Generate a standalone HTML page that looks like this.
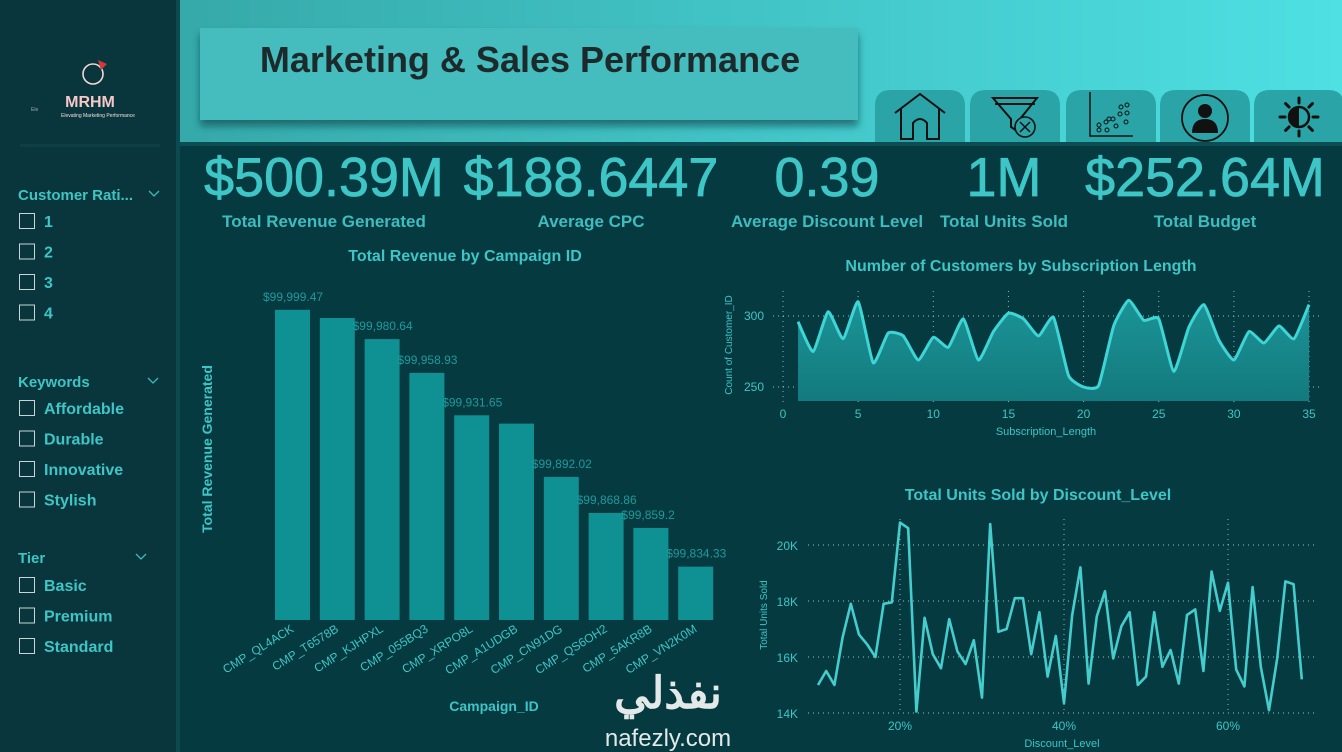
<!DOCTYPE html>
<html><head><meta charset="utf-8">
<style>
html,body{margin:0;padding:0;width:1342px;height:752px;overflow:hidden;background:#043a40;font-family:"Liberation Sans","Noto Sans CJK SC",sans-serif}
svg text{font-family:"Liberation Sans","Noto Sans CJK SC",sans-serif}
</style></head><body>
<svg id="root" width="1342" height="752" viewBox="0 0 1342 752" xmlns="http://www.w3.org/2000/svg">
<defs>
<linearGradient id="hdr" x1="0" x2="1" y1="0" y2="0"><stop offset="0" stop-color="#36a9aa"/><stop offset="1" stop-color="#4ee0e3"/></linearGradient>
<linearGradient id="area" x1="0" x2="0" y1="0" y2="1"><stop offset="0" stop-color="#1b9497"/><stop offset="1" stop-color="#137a7e"/></linearGradient>
<filter id="sh" x="-5%" y="-20%" width="110%" height="150%"><feDropShadow dx="0" dy="6" stdDeviation="4" flood-color="#0d4d52" flood-opacity="0.7"/></filter>
</defs>
<rect x="0" y="0" width="1342" height="752" fill="#043a40"/>
<rect x="0" y="0" width="178" height="752" fill="#08363c"/>
<rect x="176" y="0" width="4" height="752" fill="#0c4a50"/>
<g>
<circle cx="93" cy="74" r="10" fill="none" stroke="#f4d6d6" stroke-width="1.6"/>
<path d="M98 60 L107 64 L101 70 Z" fill="#d23a3a"/>
<text x="90" y="107" font-size="16" font-weight="bold" fill="#f6c8c8" text-anchor="middle">MRHM</text>
<text x="98" y="117" font-size="5" fill="#f0e0e0" text-anchor="middle">Elevating Marketing Performance</text>
<text x="31" y="111" font-size="5" fill="#9ab">Ele</text>
</g>
<rect x="20" y="144" width="140" height="3" fill="#0e3f44"/>
<g font-size="15" font-weight="bold" fill="#3fc4c4">
<text x="18" y="200">Customer Rati...</text>
<text x="18" y="387">Keywords</text>
<text x="18" y="563">Tier</text>
</g>
<g stroke="#3fb9bb" stroke-width="1.3" fill="none">
<path d="M149 191 l5 5 l5 -5"/>
<path d="M148 378 l5 5 l5 -5"/>
<path d="M136 554 l5 5 l5 -5"/>
</g>
<g id="filters"></g>
<rect x="180" y="0" width="1162" height="142" fill="url(#hdr)"/>
<rect x="200" y="28" width="658" height="92" fill="#45bcbd" filter="url(#sh)"/>
<text x="530" y="72" font-size="36" font-weight="bold" fill="#1d2a2c" text-anchor="middle">Marketing &amp; Sales Performance</text>
<g id="tabs"></g>
<rect x="180" y="142" width="1162" height="4" fill="#0a4e54"/>
<g id="kpis"></g>
<g id="bar"></g>
<g id="line1"></g>
<g id="line2"></g>
<g fill="#e3e9e9">
<text x="668" y="708" font-size="44" font-weight="bold" text-anchor="middle" font-family="'DejaVu Sans',sans-serif">نفذلي</text>
<text x="668" y="746" font-size="24" text-anchor="middle">nafezly.com</text>
</g>
</svg>
<script>
const NS='http://www.w3.org/2000/svg';
function el(tag,attrs,parent,txt){const e=document.createElementNS(NS,tag);for(const k in attrs)e.setAttribute(k,attrs[k]);if(txt!==undefined)e.textContent=txt;parent.appendChild(e);return e;}
const TEAL='#3ec5c6';

const ratingItems=['1','2','3','4'];
const keywordItems=['Affordable','Durable','Innovative','Stylish'];
const tierItems=['Basic','Premium','Standard'];
const fg=document.getElementById('filters');
function filterList(items,y0,step,name){
  items.forEach((t,i)=>{
    const y=y0+i*step;
    const g=el('g',{},fg);
    
    
    el('rect',{x:19.5,y:y-7.5,width:15,height:15,fill:'none',stroke:'#c9d6d8','stroke-width':1},g);
    el('text',{x:44,y:y+6,'font-size':16,'font-weight':'bold',fill:TEAL},g,t);
  });
}
filterList(ratingItems,221,30.5,'customer-rating');
filterList(keywordItems,408,30.5,'keyword');
filterList(tierItems,585,30.5,'tier');

const tg=document.getElementById('tabs');
const tabNames=['home-tab','clear-filters-tab','scatter-tab','profile-tab','theme-tab'];
const tabX=[875,970,1066,1160,1254];
tabX.forEach((x,i)=>{
  const g=el('g',{},tg);
  
  
  el('path',{d:`M${x} 142 V106 Q${x} 90 ${x+16} 90 H${x+74} Q${x+90} 90 ${x+90} 106 V142 Z`,fill:'#2aa4a6'},g);
  const cx=x+45,cy=117;
  const s={fill:'none',stroke:'#111','stroke-width':2};
  if(i===0){el('path',Object.assign({d:`M${cx-25} ${cy-4} L${cx} ${cy-23} L${cx+25} ${cy-4} M${cx-19} ${cy-8} V${cy+22} H${cx-7} V${cy+6} Q${cx} ${cy-2} ${cx+7} ${cy+6} V${cy+22} H${cx+19} V${cy-8}`},s),g);}
  if(i===1){el('path',Object.assign({d:`M${cx-22} ${cy-19} H${cx+22} L${cx+5} ${cy+2} V${cy+16} L${cx-4} ${cy+10} V${cy+2} Z M${cx-20} ${cy-13} H${cx+20}`},s),g);el('circle',{cx:cx+10,cy:cy+10,r:10,fill:'#2aa4a6',stroke:'#111','stroke-width':1.6},g);el('path',{d:`M${cx+5} ${cy+5} l10 10 M${cx+15} ${cy+5} l-10 10`,stroke:'#111','stroke-width':1.5},g);}
  if(i===2){el('path',{d:`M${cx-21} ${cy-25} V${cy+19} H${cx+22}`,stroke:'#111','stroke-width':1.5,fill:'none'},g);[[-12,8],[-5,5],[2,2],[9,-3],[16,-12],[-12,13],[-4,13],[5,9],[15,5],[16,-4],[10,-10],[-2,2]].forEach(p=>el('circle',{cx:cx+p[0],cy:cy+p[1],r:2,fill:'none',stroke:'#111','stroke-width':1},g));}
  if(i===3){el('circle',{cx:cx,cy:cy+1,r:23,fill:'none',stroke:'#111','stroke-width':1.8},g);el('circle',{cx:cx,cy:cy-6,r:7,fill:'#111'},g);el('path',{d:`M${cx-13} ${cy+16} Q${cx-13} ${cy+2} ${cx} ${cy+2} Q${cx+13} ${cy+2} ${cx+13} ${cy+16} Z`,fill:'#111'},g);}
  if(i===4){el('circle',{cx:cx,cy:cy,r:10,fill:'none',stroke:'#111','stroke-width':2.5},g);el('path',{d:`M${cx} ${cy-10} A10 10 0 0 0 ${cx} ${cy+10} Z`,fill:'#111'},g);for(let a=0;a<8;a++){const r=a*Math.PI/4;el('line',{x1:cx+Math.cos(r)*14,y1:cy+Math.sin(r)*14,x2:cx+Math.cos(r)*19,y2:cy+Math.sin(r)*19,stroke:'#111','stroke-width':3,'stroke-linecap':'round'},g);}}
});

const kpiValues=['$500.39M','$188.6447','0.39','1M','$252.64M'];
const kpiLabels=['Total Revenue Generated','Average CPC','Average Discount Level','Total Units Sold','Total Budget'];
const kpiNames=['total-revenue','average-cpc','average-discount','total-units','total-budget'];
const kpiCx=[324,591,827,1004,1205];
const kg=document.getElementById('kpis');
kpiValues.forEach((v,i)=>{
  const g=el('g',{},kg);
  
  
  el('text',{x:kpiCx[i],y:196,'font-size':55,fill:TEAL,'text-anchor':'middle',stroke:TEAL,'stroke-width':0.8,transform:`translate(${kpiCx[i]} 0) scale(0.98 1) translate(${-kpiCx[i]} 0)`},g,v);
  el('text',{x:kpiCx[i],y:227,'font-size':17,'font-weight':'bold',fill:'#3fbcbe','text-anchor':'middle'},g,kpiLabels[i]);
});

const barCats=['CMP_QL4ACK','CMP_T6578B','CMP_KJHPXL','CMP_055BQ3','CMP_XRPO8L','CMP_A1UDGB','CMP_CN91DG','CMP_QS6OH2','CMP_5AKR8B','CMP_VN2K0M'];
const barVals=[99999.47,99994.2,99980.64,99958.93,99931.65,99926.3,99892.02,99868.86,99859.2,99834.33];
const barLabelShown=[true,false,true,true,true,false,true,true,true,true];
const bg=document.getElementById('bar');
const bMin=99800,bMax=100000,bBase=620,bTop=309;
const by=v=>bBase-(v-bMin)/(bMax-bMin)*(bBase-bTop);
const bx=i=>275+i*44.8;
const bw=35;
const bt=el('text',{x:465,y:261,'font-size':16,'font-weight':'bold',fill:TEAL,'text-anchor':'middle'},bg,'Total Revenue by Campaign ID');


const yt=el('text',{x:212,y:449,'font-size':14,'font-weight':'bold',fill:TEAL,'text-anchor':'middle',transform:'rotate(-90 212 449)'},bg,'Total Revenue Generated');


const xt=el('text',{x:494,y:711,'font-size':14,'font-weight':'bold',fill:TEAL,'text-anchor':'middle'},bg,'Campaign_ID');


barVals.forEach((v,i)=>{
  const r=el('rect',{x:bx(i),y:by(v),width:bw,height:bBase-by(v),fill:'#0f9093'},bg);
  
  
  if(barLabelShown[i]){
    const t=el('text',{x:bx(i)-12,y:by(v)-9,'font-size':12,fill:'#1f9a9c'},bg,'$'+v.toLocaleString('en-US',{maximumFractionDigits:2}));
    
    
  }
  const cx=bx(i)+bw/2+2;
  const c=el('text',{x:cx,y:631,'font-size':12,fill:TEAL,'text-anchor':'end',transform:`rotate(-32 ${cx} 631)`},bg,barCats[i]);
  
  
});

const subLen=[1,2,3,4,5,6,7,8,9,10,11,12,13,14,15,16,17,18,19,20,21,22,23,24,25,26,27,28,29,30,31,32,33,34,35];
const custCount=[296,275,303,284,310,267,288,286,269,285,278,298,269,289,302,298,286,299,258,250,251,293,311,297,298,261,292,308,283,269,289,281,293,284,308];
const l1XTicks=[0,5,10,15,20,25,30,35];
const l1YTicks=[250,300];
const g1=document.getElementById('line1');
const x1=v=>783+v*15.03;
const y1=v=>316-(v-300)*1.42;
const base1=401;
const t1=el('text',{x:1021,y:271,'font-size':16,'font-weight':'bold',fill:TEAL,'text-anchor':'middle'},g1,'Number of Customers by Subscription Length');


l1XTicks.forEach(v=>{
  el('line',{x1:x1(v),x2:x1(v),y1:291,y2:405,stroke:'#8fb7b9','stroke-width':1,'stroke-dasharray':'1 4'},g1);
  const t=el('text',{x:x1(v),y:418,'font-size':12,fill:TEAL,'text-anchor':'middle'},g1,String(v));
  
  
});
l1YTicks.forEach(v=>{
  el('line',{x1:773,x2:1320,y1:y1(v),y2:y1(v),stroke:'#9fc3c5','stroke-width':1,'stroke-dasharray':'1 4'},g1);
  const t=el('text',{x:764,y:y1(v)+4,'font-size':12,fill:TEAL,'text-anchor':'end'},g1,String(v));
  
  
});
function smooth(pts){let d=`M${pts[0][0]} ${pts[0][1]}`;for(let i=0;i<pts.length-1;i++){const p0=pts[i-1]||pts[i],p1=pts[i],p2=pts[i+1],p3=pts[i+2]||p2;const k=0.08;d+=` C${p1[0]+(p2[0]-p0[0])*k} ${p1[1]+(p2[1]-p0[1])*k} ${p2[0]-(p3[0]-p1[0])*k} ${p2[1]-(p3[1]-p1[1])*k} ${p2[0]} ${p2[1]}`;}return d;}
const pts1=subLen.map((s,i)=>[x1(s),y1(custCount[i])]);
const lineD=smooth(pts1);
const ar=el('path',{d:lineD+` L${x1(subLen[subLen.length-1])} ${base1} L${x1(subLen[0])} ${base1} Z`,fill:'url(#area)'},g1);


const ln=el('path',{d:lineD,fill:'none',stroke:'#3dd5d5','stroke-width':3,'stroke-linejoin':'round'},g1);


const a1=el('text',{x:1046,y:435,'font-size':11,fill:TEAL,'text-anchor':'middle'},g1,'Subscription_Length');


const a2=el('text',{x:732,y:345,'font-size':10,fill:TEAL,'text-anchor':'middle',transform:'rotate(-90 732 345)'},g1,'Count of Customer_ID');



const discLevel=[10,11,12,13,14,15,16,17,18,19,20,21,22,23,24,25,26,27,28,29,30,31,32,33,34,35,36,37,38,39,40,41,42,43,44,45,46,47,48,49,50,51,52,53,54,55,56,57,58,59,60,61,62,63,64,65,66,67,68,69];
const unitsK=[15.0,15.5,15.0,16.7,17.9,16.8,16.45,16.0,17.9,17.95,20.8,20.6,14.05,17.4,16.1,15.6,17.35,16.2,15.75,16.6,14.55,20.75,16.9,17.0,18.1,18.1,16.1,17.6,15.3,16.75,14.35,17.5,19.2,15.05,17.45,18.35,15.95,17.1,17.6,15.0,15.3,17.6,15.65,16.25,15.05,17.5,17.7,15.5,19.05,17.65,18.65,15.55,14.95,18.5,15.65,14.1,15.95,18.7,18.6,15.2];
const l2XTicks=[20,40,60];
const l2YTicks=[14,16,18,20];
const g2=document.getElementById('line2');
const x2=v=>900+(v-20)*8.2;
const y2=v=>713-(v-14)*28;
const t2=el('text',{x:1038,y:500,'font-size':16,'font-weight':'bold',fill:TEAL,'text-anchor':'middle'},g2,'Total Units Sold by Discount_Level');


l2YTicks.forEach(v=>{
  el('line',{x1:808,x2:1315,y1:y2(v),y2:y2(v),stroke:'#9fc3c5','stroke-width':1,'stroke-dasharray':'1 4'},g2);
  const t=el('text',{x:798,y:y2(v)+5,'font-size':12,fill:TEAL,'text-anchor':'end'},g2,v+'K');
  
  
});
l2XTicks.forEach(v=>{
  el('line',{x1:x2(v),x2:x2(v),y1:519,y2:713,stroke:'#8fb7b9','stroke-width':1,'stroke-dasharray':'1 4'},g2);
  const t=el('text',{x:x2(v),y:730,'font-size':12,fill:TEAL,'text-anchor':'middle'},g2,v+'%');
  
  
});
const ln2=el('polyline',{points:discLevel.map((d,i)=>x2(d)+','+y2(unitsK[i])).join(' '),fill:'none',stroke:'#45cccc','stroke-width':2.6,'stroke-linejoin':'round'},g2);


const a3=el('text',{x:1062,y:747,'font-size':11,fill:TEAL,'text-anchor':'middle'},g2,'Discount_Level');


const a4=el('text',{x:767,y:615,'font-size':10,fill:TEAL,'text-anchor':'middle',transform:'rotate(-90 767 615)'},g2,'Total Units Sold');


</script>
</body></html>
